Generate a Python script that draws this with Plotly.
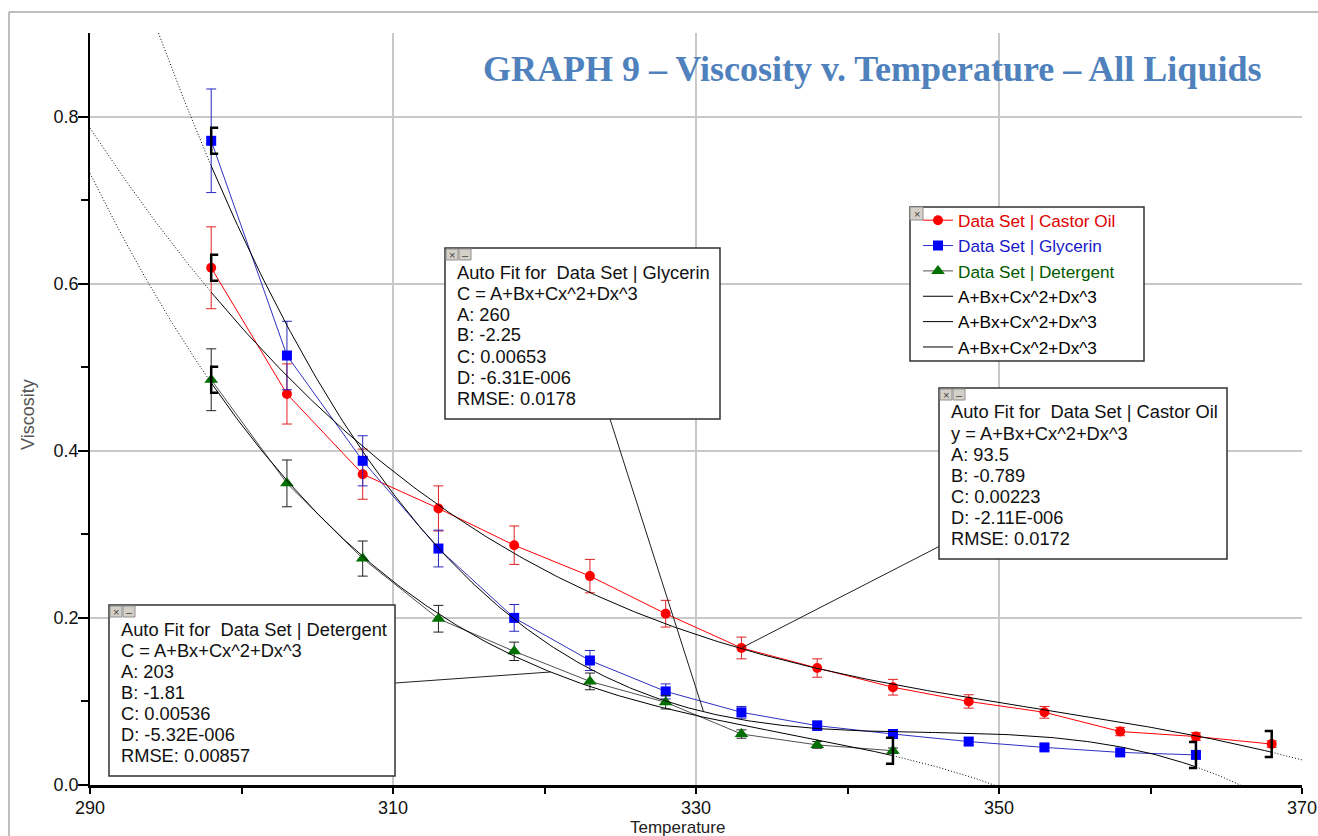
import numpy as np
import plotly.graph_objects as go

# ---------------- data ----------------
temp_castor = [298, 303, 308, 313, 318, 323, 328, 333, 338, 343, 348, 353, 358, 363, 368]
visc_castor = [0.619, 0.468, 0.372, 0.331, 0.287, 0.250, 0.205, 0.164, 0.140, 0.117,
               0.100, 0.087, 0.064, 0.058, 0.049]
err_castor = [0.049, 0.036, 0.030, 0.027, 0.023, 0.020, 0.016, 0.013, 0.011, 0.0094,
              0.008, 0.007, 0.005, 0.0046, 0.0039]

temp_glycerin = [298, 303, 308, 313, 318, 323, 328, 333, 338, 343, 348, 353, 358, 363]
visc_glycerin = [0.771, 0.514, 0.388, 0.283, 0.200, 0.149, 0.112, 0.087, 0.071, 0.061,
                 0.052, 0.045, 0.039, 0.036]
err_glycerin = [0.062, 0.041, 0.030, 0.022, 0.016, 0.012, 0.009, 0.007, 0.0057, 0.0049,
                0.0042, 0.0036, 0.0031, 0.0029]

temp_detergent = [298, 303, 308, 313, 318, 323, 328, 333, 338, 343]
visc_detergent = [0.485, 0.361, 0.271, 0.199, 0.160, 0.124, 0.099, 0.061, 0.048, 0.041]
err_detergent = [0.037, 0.028, 0.021, 0.016, 0.011, 0.010, 0.008, 0.005, 0.004, 0.0033]

x_ticks = [290, 310, 330, 350, 370]
x_minor = [300, 320, 340, 360]
y_ticks = [0.0, 0.2, 0.4, 0.6, 0.8]
y_ticklabels = ["0.0", "0.2", "0.4", "0.6", "0.8"]
y_minor = [0.1, 0.3, 0.5, 0.7]

title_text = "GRAPH 9 – Viscosity v. Temperature – All Liquids"
fit_name = "A+Bx+Cx^2+Dx^3"
box_glycerin = ["Auto Fit for  Data Set | Glycerin", "C = A+Bx+Cx^2+Dx^3", "A: 260",
                "B: -2.25", "C: 0.00653", "D: -6.31E-006", "RMSE: 0.0178"]
box_castor = ["Auto Fit for  Data Set | Castor Oil", "y = A+Bx+Cx^2+Dx^3", "A: 93.5",
              "B: -0.789", "C: 0.00223", "D: -2.11E-006", "RMSE: 0.0172"]
box_detergent = ["Auto Fit for  Data Set | Detergent", "C = A+Bx+Cx^2+Dx^3", "A: 203",
                 "B: -1.81", "C: 0.00536", "D: -5.32E-006", "RMSE: 0.00857"]

# ---------------- layout geometry ----------------
W, H = 1318, 836
L, R, T, B = 90, 1302, 33, 785
PW, PH = R - L, B - T
XR = [290, 370]
YR = [0, 0.9]
FONT = "Liberation Sans, Arial, sans-serif"


def PX(p):
    return (p - L) / PW


def PY(p):
    return (B - p) / PH


def DX(p):
    return XR[0] + (p - L) * (XR[1] - XR[0]) / PW


def DY(p):
    return YR[0] + (B - p) * (YR[1] - YR[0]) / PH


def cubic(xs, ys):
    c = np.polyfit(np.asarray(xs, float) - 330.0, np.asarray(ys, float), 3)
    return lambda t: np.polyval(c, np.asarray(t, float) - 330.0)


fig = go.Figure()

series = [
    ("Castor Oil", temp_castor, visc_castor, err_castor, "#ff0000", "#e00000", "circle", 10, "#ff0000", "#e02020"),
    ("Glycerin", temp_glycerin, visc_glycerin, err_glycerin, "#0000ff", "#1818c8", "square", 10, "#3030c0", "#2828c0"),
    ("Detergent", temp_detergent, visc_detergent, err_detergent, "#007000", "#005a00", "triangle-up", 12, "#505050", "#202020"),
]

for name, xs, ys, es, mcol, tcol, sym, msize, lcol, ecol in series:
    fig.add_trace(go.Scatter(
        x=xs, y=ys, mode="lines+markers",
        name=f"<span style='color:{tcol}'>Data Set | {name}</span>",
        line=dict(color=lcol, width=1),
        marker=dict(color=mcol, symbol=sym, size=msize, line=dict(width=0)),
        error_y=dict(type="data", array=es, visible=True, color=ecol, thickness=1, width=5),
        legendgroup=name,
    ))

fits = {}
for name, xs, ys, *_ in series:
    f = cubic(xs, ys)
    fits[name] = f
    x0, x1 = min(xs), max(xs)
    ts = np.linspace(x0, x1, 300)
    fig.add_trace(go.Scatter(
        x=ts, y=f(ts), mode="lines", name=fit_name,
        line=dict(color="black", width=1), legendgroup="fit" + name,
    ))

for name, xs, ys, *_ in series:
    f = fits[name]
    x0, x1 = min(xs), max(xs)
    tl = np.linspace(XR[0], x0, 120)
    tr = np.linspace(x1, XR[1], 120)
    xx = list(tl) + [None] + list(tr)
    yy = list(f(tl)) + [None] + list(f(tr))
    fig.add_trace(go.Scatter(
        x=xx, y=yy, mode="lines", showlegend=False,
        line=dict(color="black", width=1, dash="1px,2px"), hoverinfo="skip",
    ))

shapes = []
annotations = []

# outer frame
shapes.append(dict(type="line", xref="paper", yref="paper", x0=PX(9), x1=PX(1330), y0=PY(12), y1=PY(12),
                   line=dict(color="#a8a8a8", width=1.5), layer="above"))
shapes.append(dict(type="line", xref="paper", yref="paper", x0=PX(9), x1=PX(9), y0=PY(12), y1=PY(850),
                   line=dict(color="#a8a8a8", width=1.5), layer="above"))

# fit-range brackets
for name, xs, ys, *_ in series:
    shapes.append(dict(type="path", xref="x", yref="y", xsizemode="pixel", ysizemode="pixel",
                       xanchor=xs[0], yanchor=ys[0], path="M7,13 L0,13 L0,-13 L7,-13",
                       line=dict(color="black", width=2.5), layer="above"))
    shapes.append(dict(type="path", xref="x", yref="y", xsizemode="pixel", ysizemode="pixel",
                       xanchor=xs[-1], yanchor=ys[-1], path="M-7,13 L0,13 L0,-13 L-7,-13",
                       line=dict(color="black", width=2.5), layer="above"))

# leader lines from fit boxes
leader_glycerin_x = 330.5
leader_detergent_x = 320.4
shapes.append(dict(type="line", xref="x", yref="y", x0=DX(610), y0=DY(419),
                   x1=leader_glycerin_x, y1=float(fits["Glycerin"](leader_glycerin_x)),
                   line=dict(color="#202020", width=1), layer="above"))
shapes.append(dict(type="line", xref="x", yref="y", x0=DX(940), y0=DY(546),
                   x1=temp_castor[7], y1=visc_castor[7],
                   line=dict(color="#202020", width=1), layer="above"))
shapes.append(dict(type="line", xref="x", yref="y", x0=DX(395), y0=DY(683),
                   x1=leader_detergent_x, y1=float(fits["Detergent"](leader_detergent_x)),
                   line=dict(color="#202020", width=1), layer="above"))


def add_box(x0, y0, x1, y1, lines):
    shapes.append(dict(type="rect", xref="paper", yref="paper", x0=PX(x0), x1=PX(x1), y0=PY(y0), y1=PY(y1),
                       fillcolor="white", line=dict(color="#303030", width=1.5), layer="above"))
    for ix, glyph in [(x0 + 1, "×"), (x0 + 14, "–")]:
        shapes.append(dict(type="rect", xref="paper", yref="paper", x0=PX(ix), x1=PX(ix + 12),
                           y0=PY(y0 + 1), y1=PY(y0 + 12), fillcolor="#d4d0c8",
                           line=dict(color="#909090", width=1), layer="above"))
        annotations.append(dict(xref="paper", yref="paper", x=PX(ix + 6), y=PY(y0 + 6.5), text=glyph,
                                showarrow=False, xanchor="center", yanchor="middle",
                                font=dict(family=FONT, size=11, color="#404040")))
    for i, s in enumerate(lines):
        annotations.append(dict(xref="paper", yref="paper", x=PX(x0 + 10), y=PY(y0 + 24 + 21 * i),
                                text=s, showarrow=False, xanchor="left", yanchor="middle",
                                font=dict(family=FONT, size=18.3, color="#111111")))


add_box(445, 248, 720, 419, box_glycerin)
add_box(939, 388, 1227, 559, box_castor)
add_box(109, 605, 395, 776, box_detergent)

# legend frame
shapes.append(dict(type="rect", xref="paper", yref="paper", x0=PX(910), x1=PX(1144), y0=PY(207), y1=PY(361),
                   fillcolor="white", line=dict(color="#303030", width=1.5), layer="above"))
shapes.append(dict(type="rect", xref="paper", yref="paper", x0=PX(910), x1=PX(923), y0=PY(207), y1=PY(220),
                   fillcolor="#d4d0c8", line=dict(color="#909090", width=1), layer="above"))
annotations.append(dict(xref="paper", yref="paper", x=PX(916.5), y=PY(213.5), text="×", showarrow=False,
                        xanchor="center", yanchor="middle", font=dict(family=FONT, size=11, color="#404040")))

# title and axis titles
annotations.append(dict(xref="paper", yref="paper", x=PX(871.5), y=PY(69), text=title_text, showarrow=False,
                        xanchor="center", yanchor="middle",
                        font=dict(family="Liberation Serif, Times New Roman, serif", size=36,
                                  color="#4f81bd", weight="bold")))
annotations.append(dict(xref="paper", yref="paper", x=PX(677), y=PY(827), text="Temperature", showarrow=False,
                        xanchor="center", yanchor="middle", font=dict(family=FONT, size=17, color="#222222")))
annotations.append(dict(xref="paper", yref="paper", x=PX(28), y=PY(415), text="Viscosity", showarrow=False,
                        textangle=-90, xanchor="center", yanchor="middle",
                        font=dict(family=FONT, size=18, color="#555555")))

fig.update_layout(
    width=W, height=H, autosize=False,
    margin=dict(l=L, r=W - R, t=T, b=H - B, pad=0, autoexpand=False),
    paper_bgcolor="white", plot_bgcolor="white",
    showlegend=True,
    legend=dict(x=PX(918), y=PY(202.5), xanchor="left", yanchor="top", bgcolor="rgba(0,0,0,0)",
                borderwidth=0, font=dict(family=FONT, size=17.2, color="black"),
                tracegroupgap=0, traceorder="normal"),
    shapes=shapes, annotations=annotations,
    xaxis=dict(range=XR, tickmode="array", tickvals=x_ticks, ticktext=[str(v) for v in x_ticks],
               showgrid=True, gridcolor="#c8c8c8", gridwidth=1.5, zeroline=False,
               showline=True, linecolor="black", linewidth=3,
               ticks="outside", ticklen=6, tickwidth=1.5, tickcolor="black", ticklabelstandoff=-2,
               tickfont=dict(family=FONT, size=18, color="#111111"),
               minor=dict(tickmode="array", tickvals=x_minor, ticks="outside", ticklen=6,
                          tickwidth=1.5, tickcolor="black", showgrid=False)),
    yaxis=dict(range=YR, tickmode="array", tickvals=y_ticks, ticktext=y_ticklabels,
               showgrid=True, gridcolor="#c8c8c8", gridwidth=1.5, zeroline=False,
               showline=True, linecolor="black", linewidth=1.5,
               ticks="outside", ticklen=10, tickwidth=1.5, tickcolor="black", ticklabelstandoff=-4,
               tickfont=dict(family=FONT, size=18, color="#111111"),
               minor=dict(tickmode="array", tickvals=y_minor, ticks="outside", ticklen=7,
                          tickwidth=1.5, tickcolor="black", showgrid=False)),
)

fig.write_html("out.html")
